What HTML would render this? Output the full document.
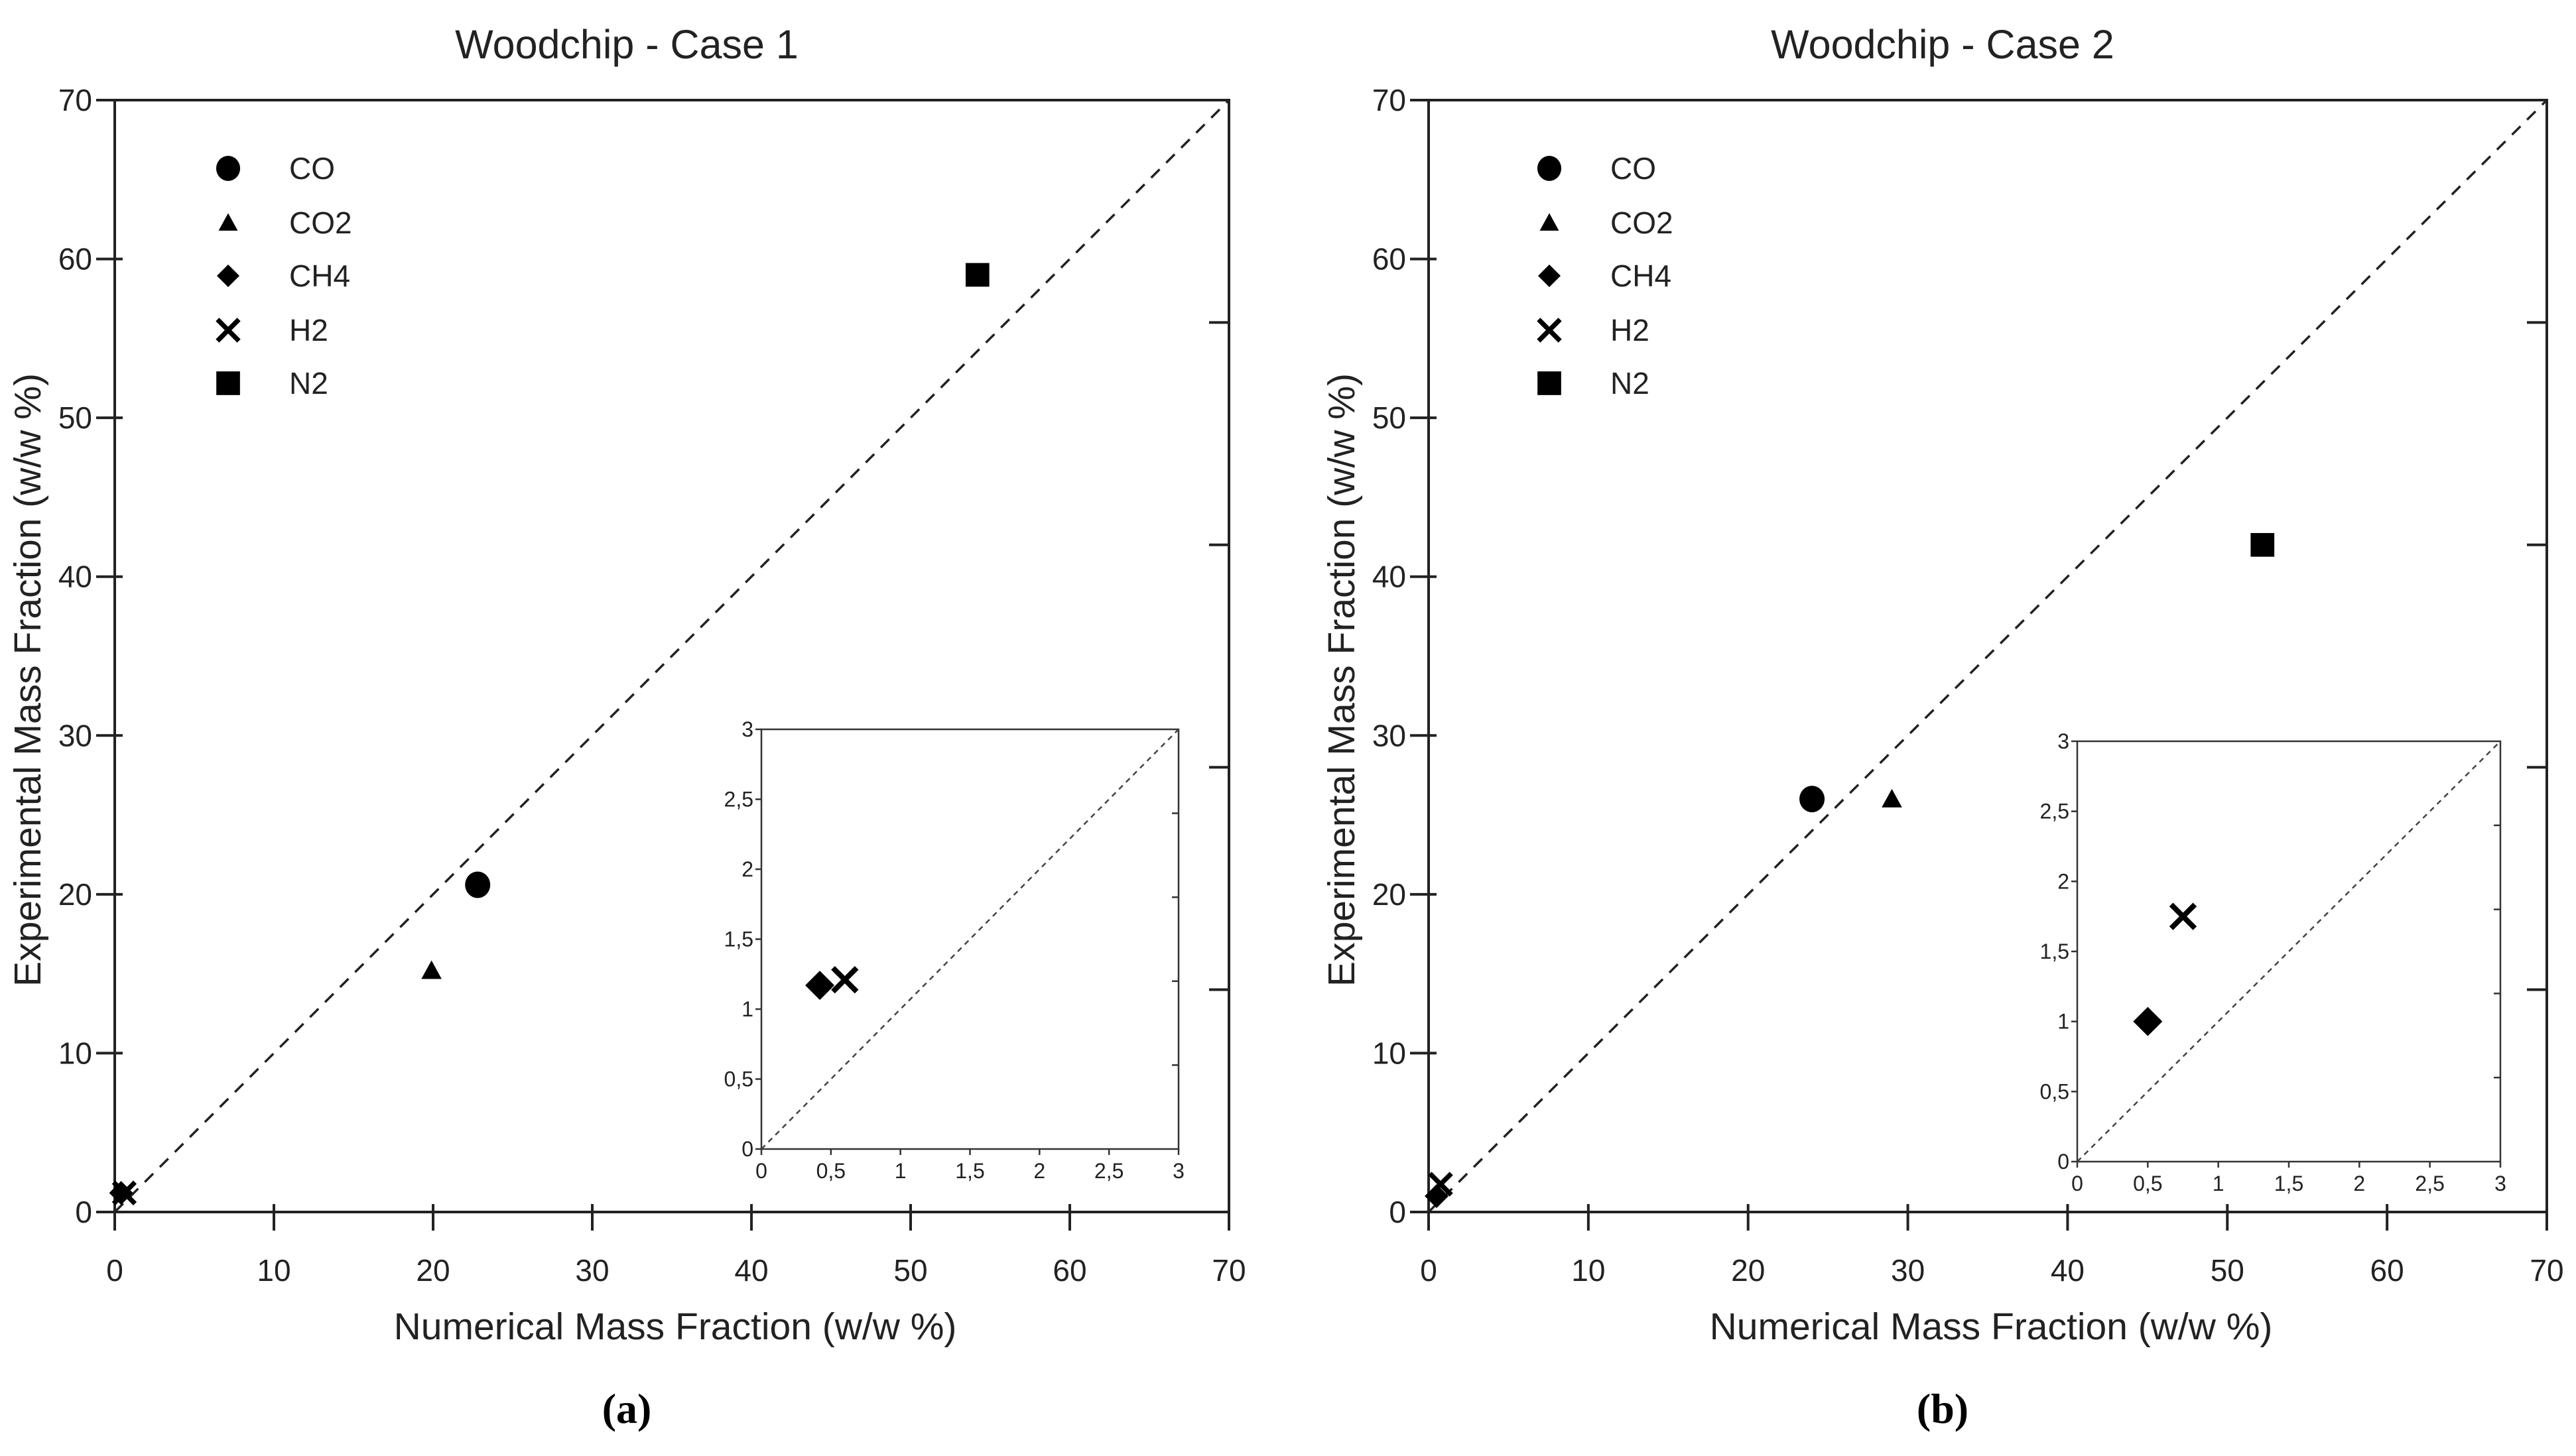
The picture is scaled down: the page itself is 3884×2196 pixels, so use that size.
<!DOCTYPE html>
<html><head><meta charset="utf-8">
<style>
html,body{margin:0;padding:0;background:#fff;}
svg{display:block;font-family:"Liberation Sans",sans-serif;}
</style></head>
<body>
<svg id="chart" width="3884" height="2196" viewBox="0 0 3884 2196" xmlns="http://www.w3.org/2000/svg"></svg>
<script>
// ---- data ----
const species = ["CO","CO2","CH4","H2","N2"];
const case1Numerical = [22.8, 19.9, 0.4, 0.6, 54.2];
const case1Experimental = [20.6, 15.2, 1.2, 1.2, 59.0];
const case2Numerical = [24.0, 29.0, 0.5, 0.75, 52.2];
const case2Experimental = [26.0, 26.0, 1.0, 1.75, 42.0];
const case1InsetNumerical = [0.42, 0.6];
const case1InsetExperimental = [1.17, 1.21];
const case2InsetNumerical = [0.5, 0.75];
const case2InsetExperimental = [1.0, 1.75];
const insetSpecies = ["CH4","H2"];
const mainTicks = [0,10,20,30,40,50,60,70];
const insetTicks = [0,0.5,1,1.5,2,2.5,3];
const insetTickLabels = ["0","0,5","1","1,5","2","2,5","3"];
const titles = ["Woodchip - Case 1","Woodchip - Case 2"];
const panelLabels = ["(a)","(b)"];

const NS="http://www.w3.org/2000/svg";
const svg=document.getElementById('chart');
function mk(tag,attrs,parent){const e=document.createElementNS(NS,tag);for(const k in attrs)e.setAttribute(k,attrs[k]);(parent||svg).appendChild(e);return e;}
function txt(s,attrs,parent){const e=mk('text',attrs,parent);e.textContent=s;return e;}

function marker(g,sp,cx,cy,s){
  let e;
  if(sp==="CO"){e=mk('ellipse',{cx:cx,cy:cy,rx:s*0.95,ry:s*1.0,fill:'#000'},g);}
  else if(sp==="CO2"){e=mk('polygon',{points:`${cx},${cy-s*0.85} ${cx+s*0.85},${cy+s*0.7} ${cx-s*0.85},${cy+s*0.7}`,fill:'#000'},g);}
  else if(sp==="CH4"){e=mk('polygon',{points:`${cx},${cy-s} ${cx+s},${cy} ${cx},${cy+s} ${cx-s},${cy}`,fill:'#000'},g);}
  else if(sp==="H2"){e=mk('path',{d:`M${cx-s*0.85},${cy-s*0.85}L${cx+s*0.85},${cy+s*0.85}M${cx+s*0.85},${cy-s*0.85}L${cx-s*0.85},${cy+s*0.85}`,stroke:'#000','stroke-width':s*0.38,fill:'none'},g);}
  else {e=mk('rect',{x:cx-s*0.85,y:cy-s*0.85,width:s*1.7,height:s*1.7,fill:'#000'},g);}
  return e;
}

function panel(idx,L,R,T,B,xs,ys,inset,ixs,iys,legX,textX){
  const g=mk('g',{});
  
  
  const X=v=>L+(v/70)*(R-L), Y=v=>B-(v/70)*(B-T);
  const cx=(L+R)/2;
  const t=txt(titles[idx],{x:cx-68,y:88,'font-size':61,'text-anchor':'middle',fill:'#222'},g);
  
  const f=mk('rect',{x:L,y:T,width:R-L,height:B-T,fill:'none',stroke:'#222','stroke-width':4},g);
  
  const d=mk('line',{x1:X(0),y1:Y(0),x2:X(70),y2:Y(70),stroke:'#222','stroke-width':3.5,'stroke-dasharray':'18,14'},g);
  
  mainTicks.forEach(v=>{
    mk('line',{x1:X(v),y1:B-12,x2:X(v),y2:B+28,stroke:'#222','stroke-width':4},g);
    mk('line',{x1:L-28,y1:Y(v),x2:L+12,y2:Y(v),stroke:'#222','stroke-width':4},g);
    const xl=txt(String(v),{x:X(v),y:B+104,'font-size':46,'text-anchor':'middle',fill:'#222'},g);
    
    const yl=txt(String(v),{x:L-34,y:Y(v)+16,'font-size':46,'text-anchor':'end',fill:'#222'},g);
    
  });
  [0.2,0.4,0.6,0.8].forEach(fr=>{mk('line',{x1:R-30,y1:T+fr*(B-T),x2:R,y2:T+fr*(B-T),stroke:'#222','stroke-width':4},g);});
  const xt=txt('Numerical Mass Fraction (w/w %)',{x:cx+5,y:2020,'font-size':57,'text-anchor':'middle',fill:'#222'},g);
  
  const yx=L-112, yy=(T+B)/2+36;
  const yt=txt('Experimental Mass Fraction (w/w %)',{x:yx,y:yy,'font-size':57,'text-anchor':'middle',fill:'#222',transform:`rotate(-90 ${yx} ${yy})`},g);
  
  const pl=txt(panelLabels[idx],{x:cx-68,y:2146,'font-size':64,'text-anchor':'middle','font-family':'Liberation Serif, serif','font-weight':'bold',fill:'#000'},g);
  
  const legY=[254,336,416,498,578];
  species.forEach((sp,i)=>{
    const m=marker(g,sp,legX,legY[i],sp==="N2"?21:(sp==="CO"?19:(sp==="H2"?19:17)));
    
    const lt=txt(sp,{x:textX,y:legY[i]+16,'font-size':46,fill:'#222'},g);
    
  });
  species.forEach((sp,i)=>{
    const m=marker(g,sp,X(xs[i]),Y(ys[i]),sp==="N2"?21:(sp==="CO"?20:(sp==="H2"?19:18)));
    
  });
  const [iL,iR,iT,iB]=inset;
  const IX=v=>iL+(v/3)*(iR-iL), IY=v=>iB-(v/3)*(iB-iT);
  const ig=mk('g',{},g);
  
  mk('rect',{x:iL,y:iT,width:iR-iL,height:iB-iT,fill:'#fff',stroke:'#333','stroke-width':2.5},ig);
  mk('line',{x1:IX(0),y1:IY(0),x2:IX(3),y2:IY(3),stroke:'#444','stroke-width':2.5,'stroke-dasharray':'8,7'},ig);
  insetTicks.forEach((v,i)=>{
    mk('line',{x1:IX(v),y1:iB,x2:IX(v),y2:iB+9,stroke:'#333','stroke-width':2.5},ig);
    mk('line',{x1:iL-9,y1:IY(v),x2:iL,y2:IY(v),stroke:'#333','stroke-width':2.5},ig);
    txt(insetTickLabels[i],{x:IX(v),y:iB+44,'font-size':32,'text-anchor':'middle',fill:'#222'},ig);
    txt(insetTickLabels[i],{x:iL-12,y:IY(v)+11,'font-size':32,'text-anchor':'end',fill:'#222'},ig);
  });
  [0.2,0.4,0.6,0.8].forEach(fr=>{mk('line',{x1:iR-10,y1:iT+fr*(iB-iT),x2:iR,y2:iT+fr*(iB-iT),stroke:'#333','stroke-width':2.5},ig);});
  insetSpecies.forEach((sp,i)=>{
    const m=marker(ig,sp,IX(ixs[i]),IY(iys[i]),sp==="H2"?21:22);
    
  });
}
panel(0,173,1853,151,1828,case1Numerical,case1Experimental,[1148,1777,1100,1733],case1InsetNumerical,case1InsetExperimental,344,436);
panel(1,2154,3840,151,1828,case2Numerical,case2Experimental,[3132,3770,1118,1752],case2InsetNumerical,case2InsetExperimental,2336,2428);
</script>
</body></html>
